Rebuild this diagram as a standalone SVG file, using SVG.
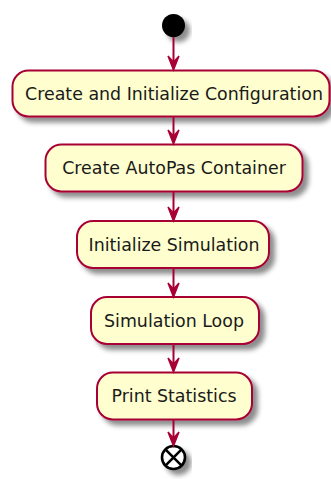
<svg xmlns="http://www.w3.org/2000/svg" width="331" height="479" viewBox="0 0 331 479">
  <style>
    .act rect { fill: #FEFECE; stroke: #A80036; stroke-width: 2; }
    .act text { font-family: "DejaVu Sans", "Liberation Sans", sans-serif; font-size: 17.4px; fill: #1a1a1a; text-anchor: middle; }
    .edge line { stroke: #A80036; stroke-width: 2; }
    .edge polygon { fill: #A80036; stroke: #A80036; stroke-width: 1.4; stroke-linejoin: miter; }
  </style>
  <defs>
    <filter id="shadow" x="-20%" y="-20%" width="150%" height="160%">
      <feGaussianBlur in="SourceAlpha" stdDeviation="2.5"/>
      <feColorMatrix type="matrix" values="0 0 0 0 0  0 0 0 0 0  0 0 0 0 0  0 0 0 0.45 0"/>
      <feOffset dx="5" dy="5" result="sh"/>
      <feMerge>
        <feMergeNode in="sh"/>
        <feMergeNode in="SourceGraphic"/>
      </feMerge>
    </filter>
  </defs>
  <rect width="331" height="479" fill="#FFFFFF"/>

  <g id="start">
    <circle cx="173.5" cy="25.5" r="11.5" fill="#000000" filter="url(#shadow)"/>
  </g>

  <g id="create-config" class="act">
    <rect x="12.5" y="70.5" width="317" height="46" rx="16" filter="url(#shadow)"/>
    <text x="174" y="99.5">Create and Initialize Configuration</text>
  </g>

  <g id="create-container" class="act">
    <rect x="45.5" y="144.5" width="257" height="47" rx="16" filter="url(#shadow)"/>
    <text x="174" y="174">Create AutoPas Container</text>
  </g>

  <g id="init-simulation" class="act">
    <rect x="77" y="221" width="192" height="47" rx="16" filter="url(#shadow)"/>
    <text x="174" y="250.5">Initialize Simulation</text>
  </g>

  <g id="simulation-loop" class="act">
    <rect x="91" y="297" width="168" height="47" rx="16" filter="url(#shadow)"/>
    <text x="174" y="326.5">Simulation Loop</text>
  </g>

  <g id="print-statistics" class="act">
    <rect x="97" y="372.5" width="155" height="47" rx="16" filter="url(#shadow)"/>
    <text x="174" y="402">Print Statistics</text>
  </g>

  <g id="stop">
    <circle cx="173.5" cy="457.5" r="11.5" fill="#FFFFFF" stroke="#000000" stroke-width="2.6" filter="url(#shadow)"/>
    <path d="M165.4 449.4 L181.6 465.6 M181.6 449.4 L165.4 465.6" stroke="#000000" stroke-width="2.6"/>
  </g>

  <g id="connectors" class="edge">
    <line x1="173.5" y1="37" x2="173.5" y2="64"/>
    <polygon points="168,56 173.5,70 179,56 173.5,62"/>
    <line x1="173.5" y1="116.5" x2="173.5" y2="138"/>
    <polygon points="168,130 173.5,144 179,130 173.5,136"/>
    <line x1="173.5" y1="191.5" x2="173.5" y2="215"/>
    <polygon points="168,207 173.5,221 179,207 173.5,213"/>
    <line x1="173.5" y1="268" x2="173.5" y2="291"/>
    <polygon points="168,283 173.5,297 179,283 173.5,289"/>
    <line x1="173.5" y1="344" x2="173.5" y2="366"/>
    <polygon points="168,358 173.5,372 179,358 173.5,364"/>
    <line x1="173.5" y1="419.5" x2="173.5" y2="440"/>
    <polygon points="168,432 173.5,446 179,432 173.5,438"/>
  </g>
</svg>
